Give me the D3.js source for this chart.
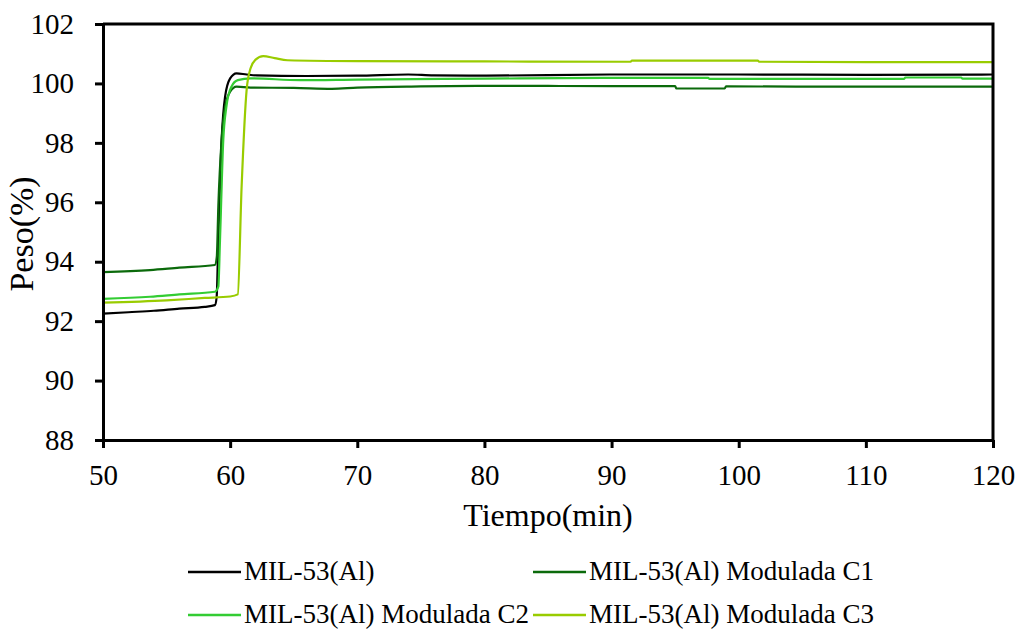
<!DOCTYPE html>
<html>
<head>
<meta charset="utf-8">
<script src="https://cdn.jsdelivr.net/npm/d3@7"></script>
<style>
  body { margin: 0; background: #fff; }
  text { font-family: "Liberation Serif", "DejaVu Serif", serif; fill: #000; }
</style>
</head>
<body>
<div id="chart"></div>
<script>
// Series (time in min, weight in %)
const tBlack = [50, 52, 54, 56, 58, 58.8, 58.94, 59.07, 59.33, 59.6, 60.0, 60.5, 61.3, 62.1, 66, 70, 74, 76, 80, 90, 100, 110, 120];
const yBlack = [92.25, 92.3, 92.35, 92.42, 92.48, 92.54, 92.82, 94.73, 98.1, 99.55, 100.17, 100.34, 100.3, 100.27, 100.25, 100.26, 100.3, 100.27, 100.26, 100.3, 100.3, 100.29, 100.3];

const tC1 = [50, 53.7, 56, 58.8, 58.95, 59.07, 59.33, 59.6, 60.0, 60.5, 61.6, 65, 68, 70, 75, 80, 90, 95, 95.1, 98.9, 99, 110, 120];
const yC1 = [93.65, 93.72, 93.8, 93.89, 94.16, 95.85, 98.1, 99.2, 99.72, 99.89, 99.86, 99.85, 99.82, 99.86, 99.9, 99.92, 99.91, 99.91, 99.83, 99.83, 99.9, 99.89, 99.89];

const tC2 = [50, 53.7, 56, 58.8, 59.07, 59.2, 59.46, 59.7, 60.1, 60.6, 61.6, 65.5, 70, 80, 90, 97.6, 97.7, 110, 113, 113.1, 117.5, 117.6, 120];
const yC2 = [92.75, 92.82, 92.9, 92.99, 93.16, 94.7, 98.1, 99.2, 99.89, 100.11, 100.17, 100.11, 100.13, 100.16, 100.19, 100.19, 100.15, 100.15, 100.15, 100.2, 100.2, 100.16, 100.16];

const tC3 = [50, 55, 58, 60, 60.6, 60.9, 61.3, 61.6, 62.0, 62.6, 63.5, 64.5, 70, 80, 91.5, 91.6, 101.5, 101.6, 110, 120];
const yC3 = [92.62, 92.7, 92.78, 92.83, 92.9, 96.5, 99.8, 100.5, 100.8, 100.92, 100.85, 100.78, 100.75, 100.74, 100.73, 100.77, 100.77, 100.73, 100.72, 100.72];

const seriesNames = ["MIL-53(Al)", "MIL-53(Al) Modulada C1", "MIL-53(Al) Modulada C2", "MIL-53(Al) Modulada C3"];
const seriesColors = ["#000000", "#0b6a0b", "#33cc33", "#99cc00"];
const seriesT = [tBlack, tC1, tC2, tC3];
const seriesY = [yBlack, yC1, yC2, yC3];

const xTicks = [50, 60, 70, 80, 90, 100, 110, 120];
const yTicks = [88, 90, 92, 94, 96, 98, 100, 102];

// Chart dimensions
const W = 1020, H = 630;
const margin = { top: 24, right: 27, bottom: 190, left: 103 };
const width = W - margin.left - margin.right;
const height = H - margin.top - margin.bottom;

const svg = d3.select("#chart")
    .append("svg")
    .attr("width", W)
    .attr("height", H);

const g = svg.append("g")
    .attr("transform", "translate(" + margin.left + "," + margin.top + ")");

const x = d3.scaleLinear().domain([50, 120]).range([0, width]);
const y = d3.scaleLinear().domain([88, 102]).range([height, 0]);

const line = d3.line()
    .curve(d3.curveMonotoneX)
    .x(d => x(d[0]))
    .y(d => y(d[1]));

// Lines
seriesT.forEach((ts, i) => {
    g.append("path")
        .datum(ts.map((t, j) => [t, seriesY[i][j]]))
        .attr("fill", "none")
        .attr("stroke", seriesColors[i])
        .attr("stroke-width", 2.2)
        .attr("stroke-linejoin", "round")
        .attr("d", line);
});

// Frame (top and right)
g.append("path")
    .attr("d", "M0,0H" + width + "V" + height)
    .attr("fill", "none")
    .attr("stroke", "#000")
    .attr("stroke-width", 3);

// Axes
const xAxis = g.append("g")
    .attr("transform", "translate(0," + height + ")")
    .call(d3.axisBottom(x).tickValues(xTicks).tickSize(8).tickSizeOuter(0).tickPadding(16));

const yAxis = g.append("g")
    .call(d3.axisLeft(y).tickValues(yTicks).tickSize(8).tickSizeOuter(0).tickPadding(21));

[xAxis, yAxis].forEach(a => {
    a.attr("font-family", null);
    a.select(".domain").attr("stroke", "#000").attr("stroke-width", 3);
    a.selectAll(".tick line").attr("stroke", "#000").attr("stroke-width", 3);
    a.selectAll(".tick text")
        .style("font-family", "'Liberation Serif', 'DejaVu Serif', serif")
        .style("font-size", "29px")
        .attr("fill", "#000");
});

// Axis titles
svg.append("text")
    .attr("x", margin.left + width / 2)
    .attr("y", 526)
    .attr("text-anchor", "middle")
    .style("font-size", "32px")
    .text("Tiempo(min)");

svg.append("text")
    .attr("transform", "translate(33," + (margin.top + height / 2 + 2) + ") rotate(-90)")
    .attr("text-anchor", "middle")
    .style("font-size", "34px")
    .text("Peso(%)");

// Legend
const legX = [188, 533];
const legY = [572, 615];
seriesNames.forEach((name, i) => {
    const lx = legX[i % 2], ly = legY[Math.floor(i / 2)];
    svg.append("line")
        .attr("x1", lx).attr("x2", lx + 53)
        .attr("y1", ly).attr("y2", ly)
        .attr("stroke", seriesColors[i])
        .attr("stroke-width", 2.5);
    svg.append("text")
        .attr("x", lx + 56)
        .attr("y", ly + 8)
        .style("font-size", "27px")
        .text(name);
});
</script>
</body>
</html>
